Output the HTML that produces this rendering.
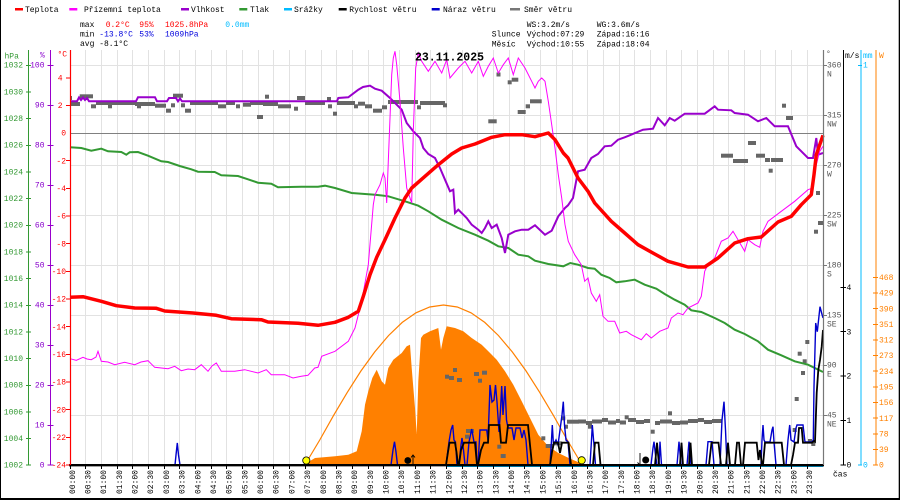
<!DOCTYPE html>
<html><head><meta charset="utf-8"><style>
html,body{margin:0;padding:0;background:#fff}
svg{display:block}
text{font-family:"Liberation Mono",monospace;font-size:8px}
</style></head><body>
<svg width="900" height="500" viewBox="0 0 900 500" xmlns="http://www.w3.org/2000/svg">
<rect x="0" y="0" width="900" height="500" fill="#fff"/>
<!-- border -->
<rect x="0" y="0" width="1" height="500" fill="#000"/>
<rect x="898.7" y="0" width="1.3" height="500" fill="#000"/>
<rect x="0" y="498" width="900" height="2" fill="#000"/>

<!-- grid -->
<path d="M85.5 50V465M101.5 50V465M117.5 50V465M132.5 50V465M148.5 50V465M164.5 50V465M179.5 50V465M195.5 50V465M211.5 50V465M226.5 50V465M242.5 50V465M258.5 50V465M273.5 50V465M289.5 50V465M305.5 50V465M321.5 50V465M336.5 50V465M352.5 50V465M368.5 50V465M383.5 50V465M399.5 50V465M415.5 50V465M430.5 50V465M446.5 50V465M462.5 50V465M477.5 50V465M493.5 50V465M509.5 50V465M524.5 50V465M540.5 50V465M556.5 50V465M572.5 50V465M587.5 50V465M603.5 50V465M619.5 50V465M634.5 50V465M650.5 50V465M666.5 50V465M681.5 50V465M697.5 50V465M713.5 50V465M728.5 50V465M744.5 50V465M760.5 50V465M775.5 50V465M791.5 50V465M807.5 50V465" stroke="#e2e2e2" stroke-width="1" fill="none"/>
<path d="M70 65.5H823M70 115.5H823M70 165.5H823M70 215.5H823M70 265.5H823M70 315.5H823M70 365.5H823M70 415.5H823" stroke="#e2e2e2" stroke-width="1" fill="none"/>
<path d="M70 133.5H823" stroke="#808080" stroke-width="1"/>

<!-- solar fill -->
<polygon fill="#ff8000" points="306,465 310,461 315,458 335,456.3 348.3,454.7 356.7,451.3 361.7,431.3 365,404.7 368.3,391.3 372.3,378 376.7,369.7 381.7,381.3 385,384.7 388.3,368 393.3,359.7 401.7,353 406.7,346.3 410,344.7 411.7,368 415,408 416.7,434 418.3,381.3 421,338 423.3,334.7 430,331.3 438.3,328 441,349.7 443.3,338 446.7,326.3 455,328 463.3,331.3 471.7,338 481.7,344.7 488.3,351.3 496.7,359.7 505,371.3 513.3,384.7 521.7,401.3 530,418 538.3,434.7 548.3,446.3 558.3,453 570.3,458.7 578,462 583,465"/>
<!-- theoretical solar -->
<polyline fill="none" stroke="#ff8000" stroke-width="1.2" points="306,463 319.75,440 333.5,415.6 347.25,392.4 361,370.9 374.75,351.9 388.5,335.6 402.25,322.4 416,312.8 429.75,307 443.5,305 457.25,307 471,312.8 484.75,322.4 498.5,335.6 512.25,351.9 526,370.9 539.75,392.4 553.5,415.6 567.25,440 581,463"/>

<!-- wind direction squares -->
<g fill="#666">
<rect x="70" y="96" width="2" height="4"/>
<rect x="71" y="102" width="9" height="4"/>
<rect x="79.7" y="94.3" width="13.3" height="4"/>
<rect x="91" y="104.3" width="5" height="4"/>
<rect x="96" y="101" width="39" height="4"/>
<rect x="108" y="104.3" width="4" height="4"/>
<rect x="135" y="102" width="20" height="4"/>
<rect x="137" y="104.3" width="4" height="4"/>
<rect x="155" y="103.7" width="11" height="4"/>
<rect x="166" y="108.7" width="5" height="4"/>
<rect x="171" y="103.3" width="4" height="4"/>
<rect x="173" y="93.7" width="10" height="4"/>
<rect x="181" y="103.3" width="4" height="4"/>
<rect x="185" y="108.7" width="6" height="4"/>
<rect x="190" y="101" width="28" height="4"/>
<rect x="218" y="104.3" width="8" height="4"/>
<rect x="226" y="101" width="9" height="4"/>
<rect x="236" y="104.3" width="4" height="4"/>
<rect x="243" y="102.7" width="8" height="4"/>
<rect x="250" y="101" width="13" height="4"/>
<rect x="257" y="115" width="6" height="4"/>
<rect x="265" y="94.7" width="4" height="4"/>
<rect x="263" y="102" width="15" height="4"/>
<rect x="278" y="104.3" width="13" height="4"/>
<rect x="294" y="106.7" width="4" height="4"/>
<rect x="297" y="96" width="8" height="4"/>
<rect x="305" y="101" width="20" height="4"/>
<rect x="327" y="97" width="4" height="4"/>
<rect x="328" y="104.3" width="4" height="4"/>
<rect x="333" y="111.7" width="4" height="4"/>
<rect x="337" y="101" width="18" height="4"/>
<rect x="354" y="104.3" width="4" height="4"/>
<rect x="358" y="101.7" width="7" height="4"/>
<rect x="365" y="104.3" width="7" height="4"/>
<rect x="373" y="108.7" width="9" height="4"/>
<rect x="382" y="105.3" width="5" height="4"/>
<rect x="388" y="100" width="30" height="4"/>
<rect x="417" y="105.3" width="4" height="4"/>
<rect x="420" y="101" width="25" height="4"/>
<rect x="443" y="103.3" width="4" height="4"/>
<!-- afternoon upper -->
<rect x="496.5" y="72.5" width="4" height="4"/>
<rect x="507.7" y="80.3" width="4" height="4"/>
<rect x="511.7" y="77.7" width="6.6" height="4"/>
<rect x="488.3" y="119.3" width="8.4" height="4"/>
<rect x="517.7" y="110" width="8" height="4"/>
<rect x="525.7" y="104.3" width="4.3" height="4"/>
<rect x="530" y="99.3" width="11.7" height="4"/>
<!-- midday low -->
<rect x="445" y="374.7" width="4" height="4"/>
<rect x="449" y="376" width="5" height="4"/>
<rect x="453" y="368" width="4" height="4"/>
<rect x="457" y="378" width="5" height="4"/>
<rect x="474" y="372" width="5" height="4"/>
<rect x="482" y="370.7" width="5" height="4"/>
<rect x="478" y="378.7" width="4" height="4"/>
<rect x="466" y="429" width="4" height="4"/>
<rect x="470" y="429" width="4" height="4"/>
<rect x="465" y="434.7" width="4" height="4"/>
<rect x="497.3" y="444.7" width="4" height="4"/>
<rect x="500.7" y="454" width="5" height="4"/>
<rect x="541.3" y="436.3" width="4" height="4"/>
<rect x="545.7" y="444" width="8" height="4"/>
<rect x="553.3" y="441.3" width="8.4" height="4"/>
<rect x="561.3" y="416.3" width="4" height="4"/>
<rect x="564" y="424.7" width="4" height="4"/>
<rect x="567" y="419.7" width="12" height="4"/>
<!-- evening bar -->
<rect x="578" y="419.5" width="8" height="4"/>
<rect x="586" y="421" width="6" height="4"/>
<rect x="588" y="424.7" width="4" height="4"/>
<rect x="592" y="419.5" width="10" height="4"/>
<rect x="602" y="418" width="6" height="4"/>
<rect x="608" y="420.5" width="8" height="4"/>
<rect x="616" y="419" width="4" height="4"/>
<rect x="620" y="420.5" width="6" height="4"/>
<rect x="624.7" y="415.3" width="4" height="4"/>
<rect x="628" y="418" width="8" height="4"/>
<rect x="636" y="420" width="8" height="4"/>
<rect x="644" y="419" width="6" height="4"/>
<rect x="650.7" y="429.7" width="4" height="4"/>
<rect x="655" y="421" width="5" height="4"/>
<rect x="660" y="419.5" width="12" height="4"/>
<rect x="668" y="411.3" width="4" height="4"/>
<rect x="672" y="421" width="8" height="4"/>
<rect x="680" y="420.5" width="8" height="4"/>
<rect x="688" y="419" width="10" height="4"/>
<rect x="698" y="418" width="6" height="4"/>
<rect x="704" y="420" width="8" height="4"/>
<rect x="712" y="419" width="10" height="4"/>
<!-- late -->
<rect x="721" y="153.7" width="12" height="4"/>
<rect x="733" y="159" width="15" height="4"/>
<rect x="748" y="141" width="8" height="4"/>
<rect x="756" y="153.7" width="9" height="4"/>
<rect x="765" y="158" width="5" height="4"/>
<rect x="771" y="158" width="12" height="4"/>
<rect x="768.7" y="168.7" width="4" height="4"/>
<rect x="782" y="103.7" width="4" height="4"/>
<rect x="786" y="116" width="7" height="4"/>
<rect x="816" y="191" width="4" height="4"/>
<rect x="818" y="221" width="6" height="4"/>
<rect x="814" y="229.7" width="4" height="4"/>
<rect x="805.3" y="340" width="4" height="4"/>
<rect x="797.7" y="351.7" width="4" height="4"/>
<rect x="802.7" y="359.3" width="4" height="4"/>
<rect x="801" y="371" width="4" height="4"/>
<rect x="794.7" y="397" width="4" height="4"/>
<rect x="792.7" y="428" width="4" height="4"/>
<rect x="808" y="439" width="4" height="4"/>
<rect x="811.3" y="442" width="4" height="4"/>
</g>

<!-- pressure -->
<polyline fill="none" stroke="#339933" stroke-width="2" points="70,147.3 81.3,148 91.3,150.7 101.3,148.7 108,151.3 121.3,152 126.3,154.7 129.7,152.3 138,152 148,155.7 161.3,161.3 168,162 179.7,166 191.3,169.3 198,171.7 214.7,172 221.3,175.3 238,176 248,179.3 258,182.7 271.3,183.7 278,187.3 301.3,186.7 318,186.7 325,185.7 335,188 351.7,193 375,194.7 388.3,196.3 405,201.3 418.3,205.7 428.3,211.3 441.7,219.7 458.3,228 475,234.7 488.3,240.7 498.3,246.3 508.3,248 518.3,254.7 528.3,256.3 535,260.7 548.3,264 563.3,266.3 570.3,263 578,264.7 588,268 594.7,268.7 601.3,274.7 609.7,278 616.3,282.3 624.7,281.3 634.7,279.7 644.7,284.7 656.3,288.7 664.7,294 674.7,299.7 684.7,304.7 691.3,310.3 701.3,312 714.7,318 724.7,323 734.7,329.7 744.7,334 758,341.3 768,349.7 781.3,355.3 794.7,361.3 808,364.7 823,372"/>

<!-- humidity -->
<polyline fill="none" stroke="#9900cc" stroke-width="2" points="70,101.3 77,101.3 79,97.5 81,100 83,97.5 85,100 87,98 89,101.3 136,101.3 138,97.3 155,97.3 157,101.3 167,101.3 169,98 176,98 178,101.3 180,98.5 182,101.3 337,101.3 338.3,98 348.3,97.3 358.3,89.7 363,87 370,85.7 375,88.7 381.7,90.7 390,98 401.7,109.7 406.7,123 413.3,131.3 420,138 423.3,148 428.3,154 435,158 440,168 445,179.7 450,191.3 453.3,189.7 455,213 458.3,209.7 466.7,218 471.7,224.7 478.3,229.7 481.7,233 485,228 488.3,221.3 491.7,228 496.7,224.7 501.7,238 505,253 508.3,234.7 515,231.3 521.7,229.7 528.3,229.7 535,225.3 545,234.7 551.7,230.7 558.3,216.3 565,208 568,205.3 573,198 578,171.3 584.7,169.7 591.3,158 598,154 604.7,146.3 611.3,145.7 618,139.7 624.7,137.3 629.7,135.3 643,129.7 653,128.7 658,118 664.7,125.3 669.7,118 674.7,120.7 684.7,113.7 704.7,113.7 714.7,106.3 718,109.7 731.3,110.3 734.7,113 748,114.7 758,121.3 766.3,118 774.7,126.3 788,126.3 796.3,146.3 808,158 813,158 816.3,138 818,154.7 823,153"/>

<!-- feels-like -->
<polyline fill="none" stroke="#ff00ff" stroke-width="1" points="70,358.7 76.3,360.3 83,357.3 87,359 91.3,359.7 96,357 98,351.3 101.3,361.3 108,362 114.7,364.7 124.7,362.3 134.7,364.7 141,362 148,360.7 154.7,367.3 168,368.7 174.7,366.3 181.3,370.7 188,369 194.7,369.7 201.3,364.7 208,371.3 212,366 216.3,363 221.3,371.3 234.7,371.3 244.7,369.7 258,373 266.3,369.7 271.3,374.7 284.7,374.7 293,378 301.3,376.3 308,375.3 314.7,368 318,367.3 321.7,356.3 335,351.3 348.3,341.3 355,328 361.7,301.3 368.3,264.7 373.3,204.7 375,194.7 380,184.7 383.3,173 385,178 386.7,203 388.3,161.3 391.7,74.7 393.3,58 395,51.3 396.7,64.7 400,101.3 403.3,148 406.7,188 411.7,203 413.3,131.3 415.7,68 418.3,53 421.7,61.3 428.3,71.3 435,61.3 441.7,73 446.7,59.7 450,78 458.3,68 465,61.3 471.7,73 478.3,61.3 483.3,76.3 488.3,66.3 493.3,58 498.3,73 503.3,64.7 508.3,58 513.3,74.7 518.3,58 525,68 531.7,81.3 535,88 538.3,81.3 541.7,78 545,81.3 548.3,101.3 551.7,124.7 555,148 558.3,174.7 561.7,198 565,224.7 568.3,241.3 574.7,254.7 581.3,264.7 584.7,281.3 588,278 591.3,293 596.3,301.3 599.7,294.7 603,316.3 608,321.3 614.7,321.3 619.7,333 626.3,331.3 631.3,334.7 641.3,339.7 646.3,333.7 651.3,338 659.7,331.3 668,328 671.3,318 678,313 683,314.7 688,308 698,303 701.3,296.3 704.7,271.3 708,264.7 714.7,258 721.3,241.3 728,238 733,231.3 738,239.7 744.7,251.3 748,239.7 754.7,244.7 759.7,247.3 763,231.3 768,221.3 781.3,211.3 794.7,201.3 808,189.7 813,188 816.3,164.7 819.7,151.3 823,146.3"/>

<!-- temperature -->
<polyline fill="none" stroke="#ff0000" stroke-width="3.5" stroke-linejoin="round" points="70,297.3 83,296.7 101.3,301.3 116.3,305.7 134.7,308 156.3,308.3 164.7,311 193,313 216.3,315.3 231.3,318.7 261.3,319.7 268,322 298,323.3 318,325.3 335,322.3 348.3,317.3 358.3,311.3 363.3,296.3 370,274.7 376.7,257.3 385,239.7 395,218 405,198 411.7,188 425,176.3 438.3,164.7 451.7,154 461.7,148 475,144 491.7,137.3 505,134.7 521.7,134.7 535,136.7 548.3,133 555,139.7 563.3,153 568,158 578,178 588,191.3 594.7,203 611.3,221.3 624.7,233 638,244.7 654.7,254 668,261.3 688,267 704.7,267 718,258 734.7,243 748,238.7 761.3,237 778,222 791.3,216.3 801.3,204.7 811.3,194.7 814,174.7 816.3,154.7 823,135.3"/>

<!-- precipitation -->
<path d="M446 466.3H823" stroke="#00bbff" stroke-width="1.3"/>

<!-- gust -->
<polyline fill="none" stroke="#0000cc" stroke-width="1.4" points="70,465 175,465 176,455 177.3,443 178.5,455 180,465 391,465 393,450 394.5,441.7 396,452 397.5,465 446,465 449,442 451,430 452.7,425 454,440 455.5,442 457,465 459,465 461,445 462,438 463.5,450 465,465 467,465 469,442 471.7,429 474,442 476,442 477,465 478,465 480,430 486.7,430 488,440 489.5,400 490,385 492,402 494,400 495.5,385 497,402 499,432 500.5,410 501.7,386 503,415 505,386 506.5,420 508,428 512,428 514,440 516,428 520,428 522,438 524,430 526,440 528,465 550,465 551.5,440 552.3,425 553.5,445 556,440 558,445 560,430 562,415 563.3,401.7 564.5,425 566,440 568,442 570,465 590,465 591.5,440 592.3,425 594,445 595.5,465 651,465 653,448 654,441.7 655.5,455 657,465 659,465 660,441.7 661.5,465 677,465 679,441.7 681,465 687,465 689,441.7 691,465 706,465 708,441.7 712,441.7 714,465 720,465 722,420 724,401.7 725.5,430 727,465 761,465 762,440 763,425 764,440 765,442 770,442 772,430 773,426.7 774,442 776,465 786,465 788,440 789.7,425 791,440 794,442 796,428 797,425 803,425 805,442 812,442 813.3,440 814,386.7 815.7,323 817.3,331.7 820,306.7 821.7,313.3 823,318"/>
<!-- wind speed -->
<polyline fill="none" stroke="#000" stroke-width="1.8" points="446,465 448,452 449.5,442.7 455,442.7 456.5,452 458,465 459,465 461,450 464,442.7 475,442.7 477,465 478,465 481,450 484,442.7 488,442.7 489,425 499.5,425 501,442.7 506,442.7 508,425 528,425 530,445 532,465 550,465 552,452 554,442.7 558,442.7 560,453 562,442.7 568.5,442.7 571,465 593,465 595,442.7 598.5,442.7 600.5,465 655,465 657,442.7 659,465 680,465 681.5,442.7 683,465 689,465 690.5,442.7 692,465 709,465 711.5,442.7 718.5,442.7 721,465 726,465 728,442.7 730,465 735,465 737,442.7 739,442.7 741,465 743,465 745,442.7 756.7,442.7 758.5,460 760,450 762,465 763,465 765,442.7 781.7,442.7 784,465 791,465 793,455 795,442.7 798,442.7 799,428 801.7,428 803,442.7 812,442.7 814,441 815,441.7 816.7,393 818.3,370 820,360 821.7,346.7 823,330"/>

<!-- x axis -->
<path d="M69 465.2H824" stroke="#000" stroke-width="2.4"/>
<path d="M70.5 465V469M85.5 465V469M101.5 465V469M117.5 465V469M132.5 465V469M148.5 465V469M164.5 465V469M179.5 465V469M195.5 465V469M211.5 465V469M226.5 465V469M242.5 465V469M258.5 465V469M273.5 465V469M289.5 465V469M305.5 465V469M321.5 465V469M336.5 465V469M352.5 465V469M368.5 465V469M383.5 465V469M399.5 465V469M415.5 465V469M430.5 465V469M446.5 465V469M462.5 465V469M477.5 465V469M493.5 465V469M509.5 465V469M524.5 465V469M540.5 465V469M556.5 465V469M572.5 465V469M587.5 465V469M603.5 465V469M619.5 465V469M634.5 465V469M650.5 465V469M666.5 465V469M681.5 465V469M697.5 465V469M713.5 465V469M728.5 465V469M744.5 465V469M760.5 465V469M775.5 465V469M791.5 465V469M807.5 465V469" stroke="#000" stroke-width="1"/>

<!-- sun / moon markers -->
<circle cx="306.3" cy="460.5" r="3.6" fill="#ffff00" stroke="#000" stroke-width="0.8"/>
<circle cx="581.7" cy="460.3" r="3.6" fill="#ffff00" stroke="#000" stroke-width="0.8"/>
<circle cx="407.8" cy="460.5" r="3.4" fill="#000"/>
<path d="M413 465V455M411 457.5L413 455L415 457.5" stroke="#000" stroke-width="0.9" fill="none"/>
<circle cx="645.7" cy="460" r="3.5" fill="#000"/>
<path d="M640 453V465M637.5 462.5L640 465" stroke="#000" stroke-width="0.9" fill="none"/>

<!-- left axes -->
<path d="M28.5 50V465" stroke="#339933" stroke-width="1"/>
<path d="M50.5 50V465" stroke="#9900cc" stroke-width="1"/>
<path d="M70.5 50V465" stroke="#ff0000" stroke-width="1.2"/>
<path d="M26 65.5H31M26 92H31M26 118.5H31M26 145.5H31M26 172H31M26 198.5H31M26 225.5H31M26 252H31M26 278.5H31M26 305.5H31M26 332H31M26 358.5H31M26 385.5H31M26 412H31M26 438.5H31M26 465H31" stroke="#339933"/>
<path d="M47.5 65.5H53.5M47.5 105.5H53.5M47.5 145.5H53.5M47.5 185.5H53.5M47.5 225.5H53.5M47.5 265.5H53.5M47.5 305.5H53.5M47.5 345.5H53.5M47.5 385.5H53.5M47.5 425.5H53.5M47.5 465H53.5" stroke="#9900cc"/>
<path d="M66 78H70M66 105.5H70M66 160.5H70M66 188.5H70M66 216H70M66 243.5H70M66 271.5H70M66 299H70M66 326.5H70M66 354.5H70M66 382H70M66 409.5H70M66 437.5H70M66 465H70" stroke="#ff0000"/>

<g fill="#339933" text-anchor="end">
<text x="23" y="67.7">1032</text><text x="23" y="94.4">1030</text><text x="23" y="121">1028</text><text x="23" y="147.7">1026</text><text x="23" y="174.4">1024</text><text x="23" y="201">1022</text><text x="23" y="227.7">1020</text><text x="23" y="254.4">1018</text><text x="23" y="281">1016</text><text x="23" y="307.7">1014</text><text x="23" y="334.4">1012</text><text x="23" y="361">1010</text><text x="23" y="387.7">1008</text><text x="23" y="414.4">1006</text><text x="23" y="441">1004</text><text x="23" y="467.7">1002</text>
</g>
<text x="4.5" y="58.3" fill="#339933">hPa</text>
<g fill="#8800cc" text-anchor="end">
<text x="44.5" y="67.7">100</text><text x="44.5" y="107.7">90</text><text x="44.5" y="147.7">80</text><text x="44.5" y="187.7">70</text><text x="44.5" y="227.7">60</text><text x="44.5" y="267.7">50</text><text x="44.5" y="307.7">40</text><text x="44.5" y="347.7">30</text><text x="44.5" y="387.7">20</text><text x="44.5" y="427.7">10</text><text x="44.5" y="467.7">0</text>
</g>
<text x="40" y="57.5" fill="#8800cc">%</text>
<g fill="#ff0000" text-anchor="end">
<text x="62.5" y="80.4">4</text><text x="62.5" y="108">2</text><text x="66" y="135.7">0</text><text x="66" y="163.4">-2</text><text x="66" y="191">-4</text><text x="66" y="218.7">-6</text><text x="66" y="246.4">-8</text><text x="66" y="274">-10</text><text x="66" y="301.7">-12</text><text x="66" y="329.4">-14</text><text x="66" y="357">-16</text><text x="66" y="384.7">-18</text><text x="66" y="412.4">-20</text><text x="66" y="440">-22</text><text x="66" y="467.7">-24</text>
</g>
<text x="57.5" y="56.7" fill="#ff0000">°C</text>

<!-- right axes -->
<path d="M823.5 50V465" stroke="#777" stroke-width="1.2"/>
<path d="M843.5 50V465" stroke="#000" stroke-width="1"/>
<path d="M861 50V465" stroke="#00bbff" stroke-width="1"/>
<path d="M876 50V465" stroke="#ff8000" stroke-width="1"/>
<path d="M823 65.5H827M823 115.5H827M823 165.5H827M823 215.5H827M823 265.5H827M823 315.5H827M823 365.5H827M823 415.5H827" stroke="#777"/>
<path d="M840.5 287.5H846M840.5 331.5H846M840.5 376H846M840.5 420.5H846M840.5 465H846" stroke="#000"/>
<path d="M858 65.5H862M858 465H862" stroke="#00bbff"/>
<path d="M873 277.5H878M873 293H878M873 308.5H878M873 324.5H878M873 340H878M873 355.5H878M873 371H878M873 387H878M873 402.5H878M873 418H878M873 434H878M873 449.5H878M873 465H878" stroke="#ff8000"/>
<g fill="#555">
<text x="827" y="67.7">360</text><text x="827" y="76.5">N</text>
<text x="827" y="117.7">315</text><text x="827" y="126.5">NW</text>
<text x="827" y="167.7">270</text><text x="827" y="176.5">W</text>
<text x="827" y="217.7">225</text><text x="827" y="226.5">SW</text>
<text x="827" y="267.7">180</text><text x="827" y="276.5">S</text>
<text x="827" y="317.7">135</text><text x="827" y="326.5">SE</text>
<text x="827" y="367.7">90</text><text x="827" y="376.5">E</text>
<text x="827" y="417.7">45</text><text x="827" y="426.5">NE</text>
<text x="826" y="56">°</text>
</g>
<g fill="#000">
<text x="846.5" y="290">4</text><text x="846.5" y="334.4">3</text><text x="846.5" y="378.7">2</text><text x="846.5" y="423">1</text><text x="846.5" y="467.7">0</text>
<text x="845" y="58">m/s</text>
<text x="833" y="476.7">čas</text>
</g>
<g fill="#00bbff">
<text x="863" y="67.7">1</text><text x="863" y="467.7">0</text><text x="863" y="58">mm</text>
</g>
<g fill="#ff8000">
<text x="879" y="58">W</text>
<text x="879" y="280">468</text><text x="879" y="295.6">429</text><text x="879" y="311.3">390</text><text x="879" y="326.9">351</text><text x="879" y="342.6">312</text><text x="879" y="358.2">273</text><text x="879" y="373.9">234</text><text x="879" y="389.5">195</text><text x="879" y="405.2">156</text><text x="879" y="420.8">117</text><text x="879" y="436.5">78</text><text x="879" y="452.1">39</text><text x="879" y="467.7">0</text>
</g>

<!-- time labels -->
<g fill="#000" text-anchor="end" style="font-size:9.4px">
<text transform="translate(74.8,470) rotate(-90)">00:00</text>
<text transform="translate(90.5,470) rotate(-90)">00:30</text>
<text transform="translate(106.2,470) rotate(-90)">01:00</text>
<text transform="translate(121.9,470) rotate(-90)">01:30</text>
<text transform="translate(137.6,470) rotate(-90)">02:00</text>
<text transform="translate(153.2,470) rotate(-90)">02:30</text>
<text transform="translate(168.9,470) rotate(-90)">03:00</text>
<text transform="translate(184.6,470) rotate(-90)">03:30</text>
<text transform="translate(200.3,470) rotate(-90)">04:00</text>
<text transform="translate(216,470) rotate(-90)">04:30</text>
<text transform="translate(231.7,470) rotate(-90)">05:00</text>
<text transform="translate(247.4,470) rotate(-90)">05:30</text>
<text transform="translate(263.1,470) rotate(-90)">06:00</text>
<text transform="translate(278.7,470) rotate(-90)">06:30</text>
<text transform="translate(294.4,470) rotate(-90)">07:00</text>
<text transform="translate(310.1,470) rotate(-90)">07:30</text>
<text transform="translate(325.8,470) rotate(-90)">08:00</text>
<text transform="translate(341.5,470) rotate(-90)">08:30</text>
<text transform="translate(357.2,470) rotate(-90)">09:00</text>
<text transform="translate(372.9,470) rotate(-90)">09:30</text>
<text transform="translate(388.6,470) rotate(-90)">10:00</text>
<text transform="translate(404.2,470) rotate(-90)">10:30</text>
<text transform="translate(419.9,470) rotate(-90)">11:00</text>
<text transform="translate(435.6,470) rotate(-90)">11:30</text>
<text transform="translate(451.3,470) rotate(-90)">12:00</text>
<text transform="translate(467,470) rotate(-90)">12:30</text>
<text transform="translate(482.7,470) rotate(-90)">13:00</text>
<text transform="translate(498.4,470) rotate(-90)">13:30</text>
<text transform="translate(514.1,470) rotate(-90)">14:00</text>
<text transform="translate(529.7,470) rotate(-90)">14:30</text>
<text transform="translate(545.4,470) rotate(-90)">15:00</text>
<text transform="translate(561.1,470) rotate(-90)">15:30</text>
<text transform="translate(576.8,470) rotate(-90)">16:00</text>
<text transform="translate(592.5,470) rotate(-90)">16:30</text>
<text transform="translate(608.2,470) rotate(-90)">17:00</text>
<text transform="translate(623.9,470) rotate(-90)">17:30</text>
<text transform="translate(639.6,470) rotate(-90)">18:00</text>
<text transform="translate(655.2,470) rotate(-90)">18:30</text>
<text transform="translate(670.9,470) rotate(-90)">19:00</text>
<text transform="translate(686.6,470) rotate(-90)">19:30</text>
<text transform="translate(702.3,470) rotate(-90)">20:00</text>
<text transform="translate(718,470) rotate(-90)">20:30</text>
<text transform="translate(733.7,470) rotate(-90)">21:00</text>
<text transform="translate(749.4,470) rotate(-90)">21:30</text>
<text transform="translate(765.1,470) rotate(-90)">22:00</text>
<text transform="translate(780.7,470) rotate(-90)">22:30</text>
<text transform="translate(796.4,470) rotate(-90)">23:00</text>
<text transform="translate(812.1,470) rotate(-90)">23:30</text>
</g>

<!-- title -->
<text x="415" y="60.7" style="font-size:12px;font-weight:bold" textLength="69" lengthAdjust="spacingAndGlyphs" fill="#000">23.11.2025</text>

<!-- legend -->
<rect x="15" y="8" width="8" height="2.5" fill="#ff0000"/>
<text x="25" y="12">Teplota</text>
<rect x="69.3" y="8" width="8" height="2.5" fill="#ff00ff"/>
<text x="84" y="12">Přízemní teplota</text>
<rect x="181" y="8" width="8" height="2.5" fill="#9900cc"/>
<text x="191" y="12">Vlhkost</text>
<rect x="239.3" y="8" width="8" height="2.5" fill="#339933"/>
<text x="250" y="12">Tlak</text>
<rect x="284" y="8" width="8" height="2.5" fill="#00bbff"/>
<text x="294" y="12">Srážky</text>
<rect x="338.7" y="8" width="8" height="2.5" fill="#000"/>
<text x="349.3" y="12">Rychlost větru</text>
<rect x="431.7" y="8" width="8" height="2.5" fill="#0000cc"/>
<text x="443" y="12">Náraz větru</text>
<rect x="510" y="8" width="10" height="2.5" fill="#777"/>
<text x="524" y="12">Směr větru</text>

<!-- stats -->
<text x="80" y="27">max</text>
<text x="105.7" y="27" fill="#ff0000">0.2°C</text>
<text x="139.3" y="27" fill="#ff0000">95%</text>
<text x="165" y="27" fill="#ff0000">1025.8hPa</text>
<text x="225.3" y="27" fill="#00bbff">0.0mm</text>
<text x="80" y="36.7">min</text>
<text x="99.3" y="36.7" fill="#0000dd">-13.8°C</text>
<text x="139.3" y="36.7" fill="#0000dd">53%</text>
<text x="165" y="36.7" fill="#0000dd">1009hPa</text>
<text x="80" y="46">avg -8.1°C</text>

<text x="526.7" y="27">WS:3.2m/s</text>
<text x="596.7" y="27">WG:3.6m/s</text>
<text x="491.7" y="36.7">Slunce</text>
<text x="526.7" y="36.7">Východ:07:29</text>
<text x="596.7" y="36.7">Západ:16:16</text>
<text x="491.7" y="46.3">Měsíc</text>
<text x="526.7" y="46.3">Východ:10:55</text>
<text x="596.7" y="46.3">Západ:18:04</text>
</svg>
</body></html>
